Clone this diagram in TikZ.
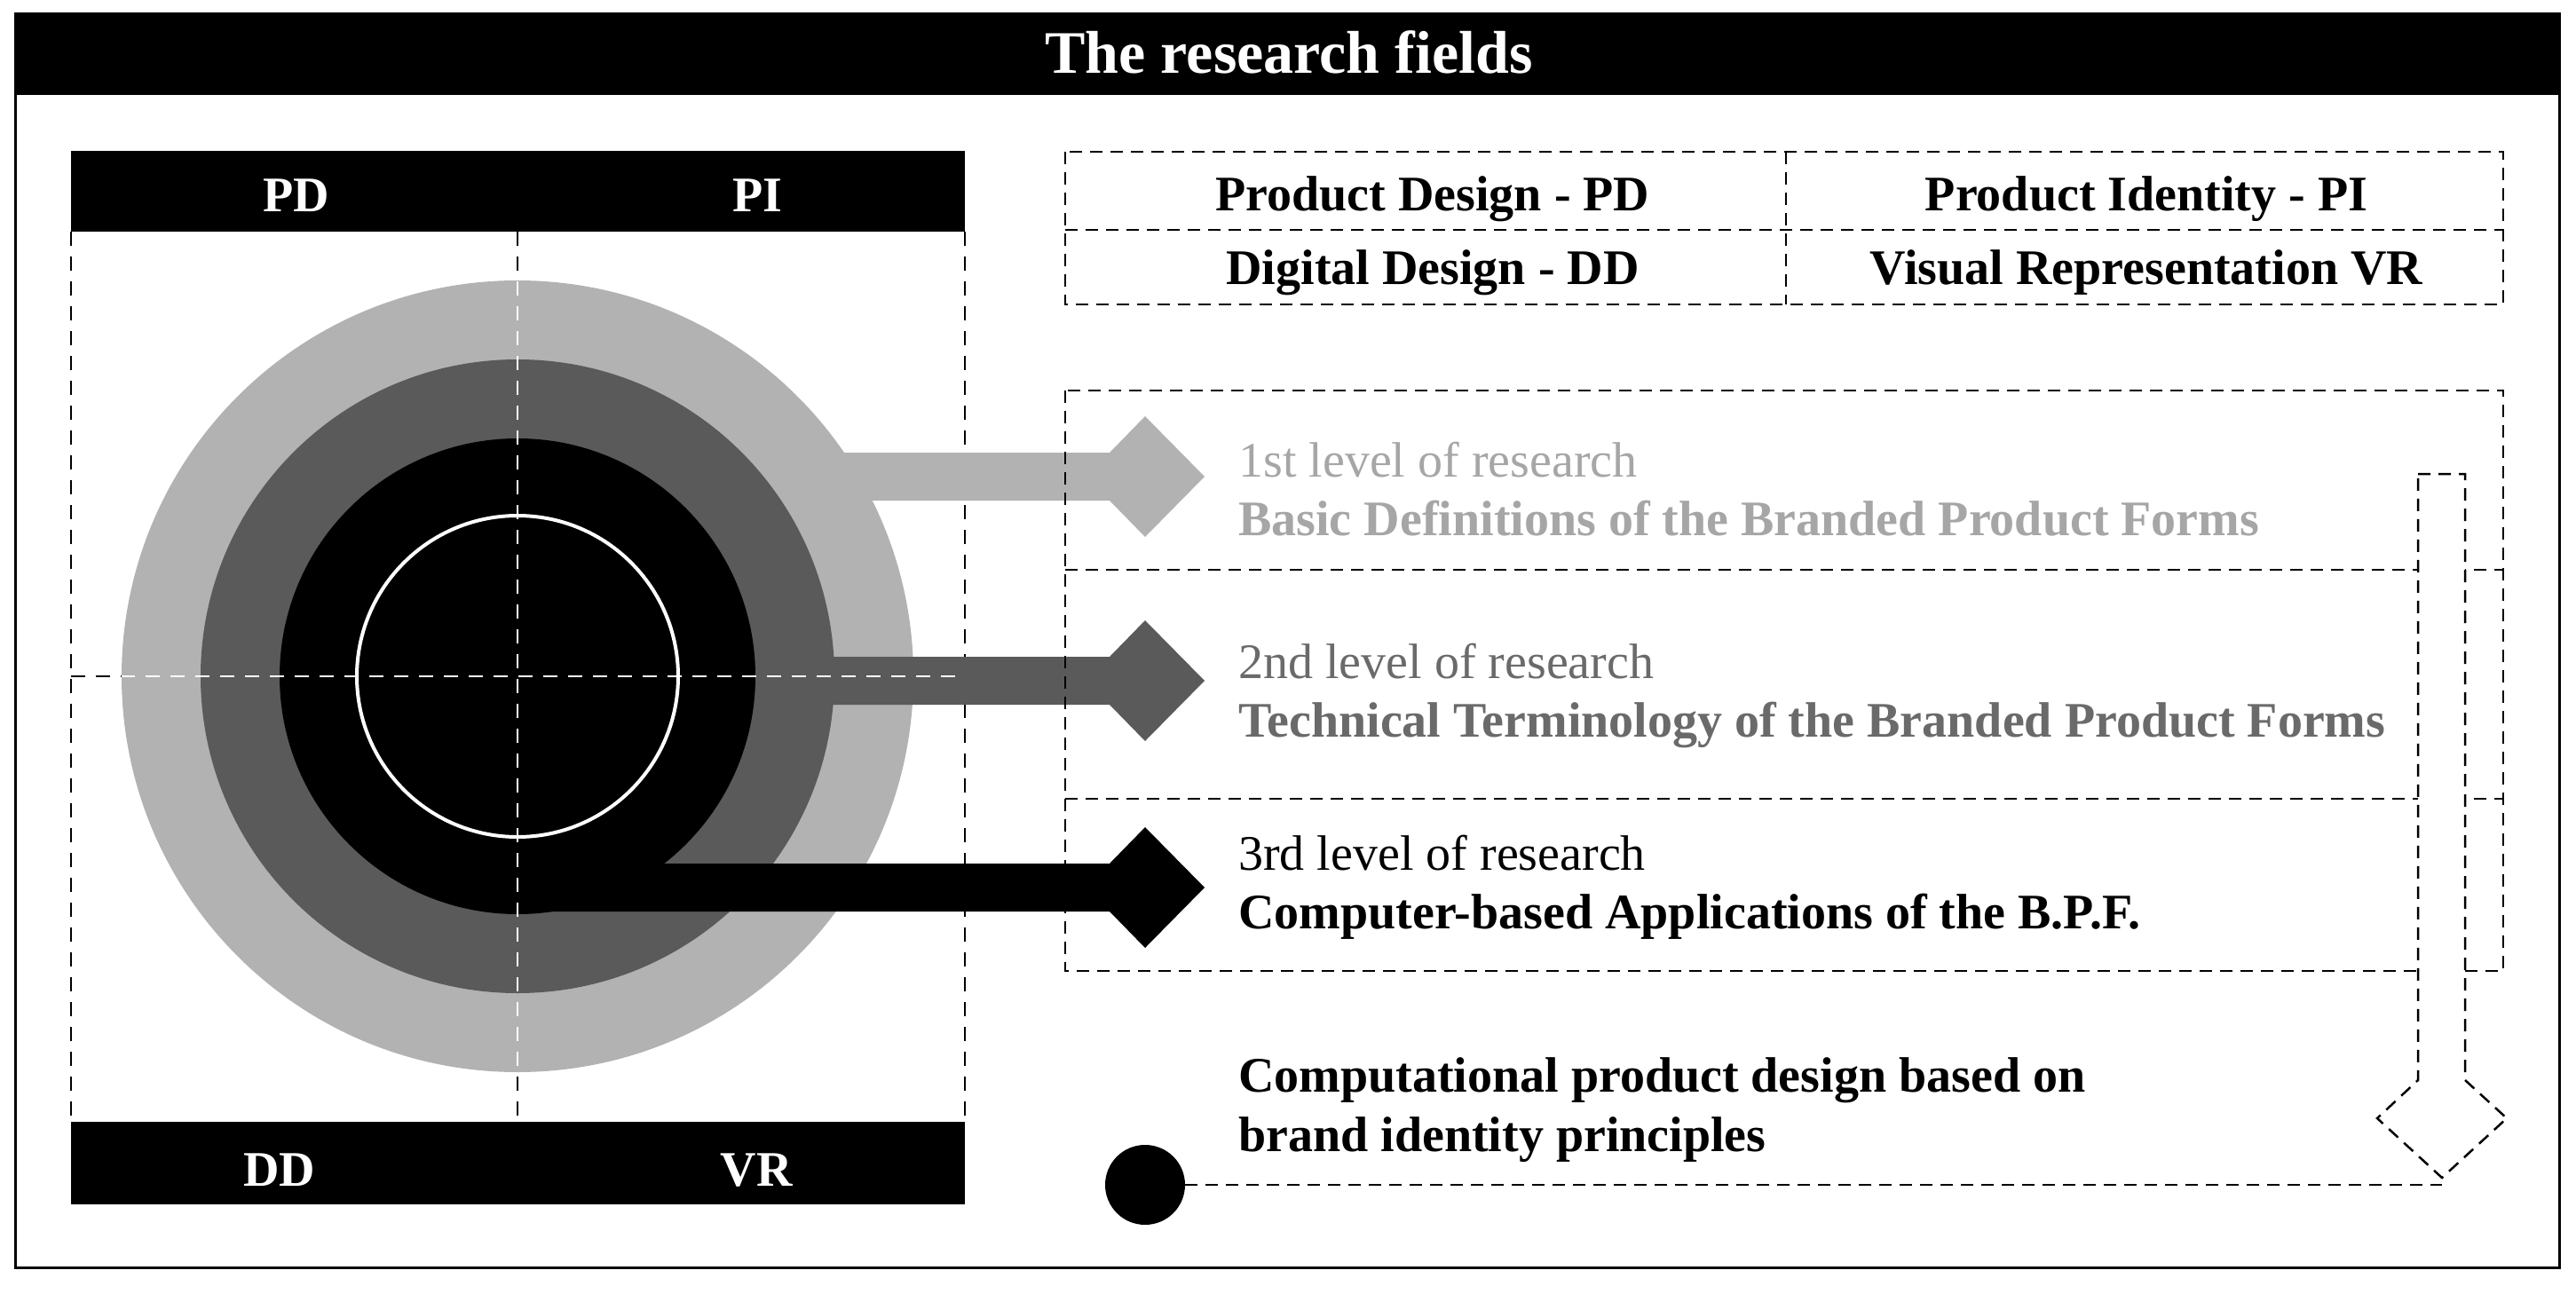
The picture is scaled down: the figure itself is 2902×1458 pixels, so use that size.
\documentclass[tikz,border=0pt]{standalone}
\usepackage{fontspec}
\setmainfont{Liberation Serif}
\usetikzlibrary{positioning}
\definecolor{ringlight}{HTML}{B2B2B2}
\definecolor{ringdark}{HTML}{5A5A5A}
\definecolor{textlight}{HTML}{A6A6A6}
\definecolor{textdark}{HTML}{6A6A6A}
\newcommand{\titlesize}{\fontsize{68}{80}\selectfont}
\newcommand{\labelsize}{\fontsize{56}{66}\selectfont}

\begin{document}
\begin{tikzpicture}[x=1pt, y=-1pt,
    every node/.style={inner sep=0pt, font=\labelsize},
    boxline/.style={line width=2.5pt, dash pattern=on 14pt off 9pt},
    axisline/.style={line width=2pt, dash pattern=on 16pt off 12pt},
    barlabel/.style={anchor=base, text=white, font=\labelsize\bfseries}]
  \useasboundingbox (0,0) rectangle (2902,1458);
  % frame and title
  \draw[line width=3pt] (17,16) rectangle (2883,1428);
  \fill (17,16) rectangle (2883,107);
  \node[barlabel, font=\titlesize\bfseries] (title) at (1452,83) {The research fields};
  % left panel
  \fill (80,170) rectangle (1087,261);
  \fill (80,1264) rectangle (1087,1357);
  \node[barlabel] (pd) at (334,238) {PD};
  \node[barlabel] (pi) at (853,238) {PI};
  \node[barlabel] (dd) at (315,1336) {DD};
  \node[barlabel] (vr) at (852,1336) {VR};
  \draw[axisline] (80,261) -- (80,1264) (1087,261) -- (1087,1264);
  % rings and arrows, one per level
  \foreach \r/\col/\yc in {446/ringlight/537, 357/ringdark/767, 268/black/1000} {
    \fill[\col] (583,762) circle (\r);
    \fill[\col] (583,\yc-27) -- (1250,\yc-27) -- (1290,\yc-68) -- (1357,\yc)
      -- (1290,\yc+68) -- (1250,\yc+27) -- (583,\yc+27) -- cycle;
  }
  \draw[white, line width=4pt] (583,762) circle (181);
  \draw[axisline] (583,261) -- (583,1264) (80,762) -- (1087,762);
  \begin{scope}
    \clip (583,762) circle (446);
    \draw[axisline, white] (583,261) -- (583,1264) (80,762) -- (1087,762);
  \end{scope}
  \begin{scope}
    \clip (900,740) rectangle (1087,794);
    \draw[axisline, white] (80,762) -- (1087,762);
  \end{scope}
  % fields table
  \draw[boxline] (1200,171) rectangle (2820,343) (1200,259) -- (2820,259) (2012,171) -- (2012,343);
  \node[anchor=base, font=\labelsize\bfseries] (fpd) at (1614,237) {Product Design - PD};
  \node[anchor=base, font=\labelsize\bfseries] (fpi) at (2418,237) {Product Identity - PI};
  \node[anchor=base, font=\labelsize\bfseries] (fdd) at (1614,320) {Digital Design - DD};
  \node[anchor=base, font=\labelsize\bfseries] (fvr) at (2418,320) {Visual Representation VR};
  % levels of research
  \draw[boxline] (1200,440) rectangle (2820,1094) (1200,642) -- (2820,642) (1200,900) -- (2820,900);
  \foreach \yb/\tc/\na/\nb [count=\i] in {
      537/textlight/1st level of research/Basic Definitions of the Branded Product Forms,
      764/textdark/2nd level of research/Technical Terminology of the Branded Product Forms,
      980/black/3rd level of research/Computer-based Applications of the B.P.F.} {
    \node[anchor=base west, text=\tc] (lvl\i-a) at (1395,\yb) {\na};
    \node[anchor=base west, text=\tc, font=\labelsize\bfseries] (lvl\i-b) at (1395,\yb+66) {\nb};
  }
  \filldraw[boxline, fill=white] (2724,534) -- (2777,534) -- (2777,1217) -- (2824,1260)
    -- (2751,1327) -- (2678,1260) -- (2724,1217) -- cycle;
  \coordinate (tip) at (2751,1327);
  % outcome
  \node[anchor=base west, font=\labelsize\bfseries] (goal-a) at (1395,1230) {Computational product design based on};
  \node[anchor=base west, font=\labelsize\bfseries] (goal-b) at (1395,1297) {brand identity principles};
  \node[circle, fill=black, minimum size=90pt] (dot) at (1290,1335) {};
  \draw[boxline] (dot) -- (dot -| tip);
\end{tikzpicture}
\end{document}
